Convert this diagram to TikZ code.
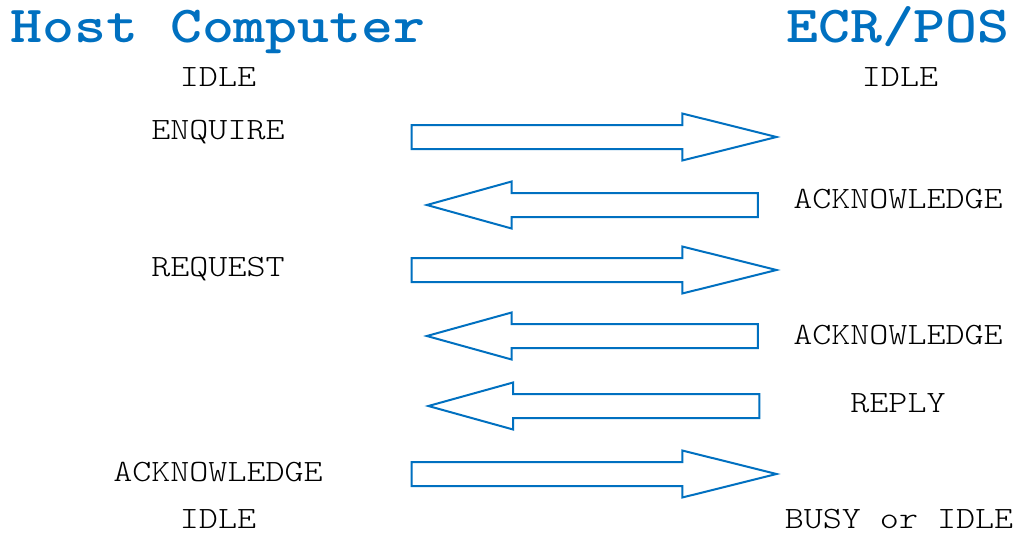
\documentclass[tikz,border=0pt]{standalone}
\usepackage{fontspec}
\newfontfamily\msgfont{lmmonolt10-regular}[Extension=.otf,FakeStretch=1.17]
\newfontfamily\headfont{lmmonolt10-bold}[Extension=.otf,FakeStretch=1.17]
\usetikzlibrary{shapes.arrows}
\definecolor{ecrblue}{HTML}{0070C0}

\begin{document}
\begin{tikzpicture}[x=1pt,y=-1pt,
    heading/.style={font=\fontsize{52}{52}\selectfont\headfont,text=ecrblue,anchor=base,inner sep=0},
    msg/.style={font=\fontsize{31}{32}\selectfont\msgfont,anchor=base,inner sep=0},
    blockarrow/.style={single arrow,draw=ecrblue,line width=2pt,fill=white,inner xsep=0,inner ysep=11,
      single arrow head extend=11.5,single arrow head indent=0},
    toecr/.style={blockarrow,minimum height=365,single arrow tip angle=28},
    tohost/.style={blockarrow,minimum height=331,single arrow tip angle=31,shape border rotate=180}]
  \useasboundingbox (0,0) rectangle (1016,535);

  % columns
  \node[heading] (host) at (218,43) {Host Computer};
  \node[heading] (ecr) at (898,43) {ECR/POS};

  % host side
  \node[msg] (hidle)  at (218,86)  {IDLE};
  \node[msg] (enq)    at (218,139) {ENQUIRE};
  \node[msg] (req)    at (218,276) {REQUEST};
  \node[msg] (hack)   at (218,481) {ACKNOWLEDGE};
  \node[msg] (hend)   at (218,528) {IDLE};

  % ecr side
  \node[msg] (eidle)  at (900,86)  {IDLE};
  \node[msg] (eack1)  at (898,208) {ACKNOWLEDGE};
  \node[msg] (eack2)  at (898,344) {ACKNOWLEDGE};
  \node[msg] (reply)  at (898,412) {REPLY};
  \node[msg] (eend)   at (899,528) {BUSY or IDLE};

  % messages
  \foreach \n/\y in {1/137,2/270,3/474} {
    \node[toecr] (send\n) at (570,\y) {};
  }
  \foreach \n/\x/\y in {1/614/205,2/614/336,3/615.5/406} {
    \node[tohost] (back\n) at (\x,\y) {};
  }
\end{tikzpicture}
\end{document}
